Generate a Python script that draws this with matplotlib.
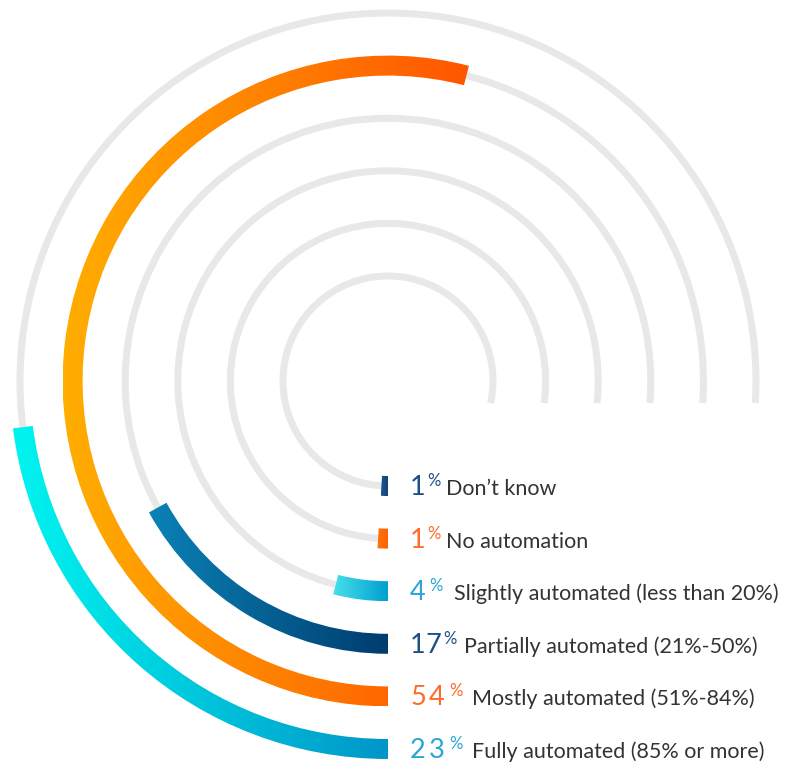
import math

import matplotlib
matplotlib.use("Agg")
import matplotlib.pyplot as plt
import numpy as np
from matplotlib.colors import LinearSegmentedColormap
from matplotlib.patches import Wedge

# data, innermost ring first
categories = ["Don\u2019t know", "No automation", "Slightly automated (less than 20%)",
              "Partially automated (21%-50%)", "Mostly automated (51%-84%)",
              "Fully automated (85% or more)"]
values = [1, 1, 4, 17, 54, 23]

# bar gradients (left -> right) and number colours
bar_left = ["#1f5590", "#ff7410", "#48dfea", "#0a82b6", "#ffae00", "#00f5f0"]
bar_right = ["#123f73", "#ff6200", "#00a0d0", "#003c6e", "#ff5500", "#0096c8"]
num_colors = ["#1d4f85", "#ff6a2a", "#2aa5d5", "#1d4f85", "#ff6a2a", "#2aa5d5"]
# spacing of the label pieces (pixels): digit tracking, number->%, %->label
tracking = [0, 0, 0, 0, 3, 3]
gap_pct = [2, 2, 3, 2, 5, 5]
gap_label = [5, 5, 12, 7, 9, 9]

W, H = 785, 763
CX, CY = 388, H - 381
R0, DR = 105, 52.6
GRAY_T, BAR_T = 7, 20
FONT = ["Lato", "DejaVu Sans"]

fig = plt.figure(figsize=(W / 100, H / 100), dpi=100)
ax = fig.add_axes([0, 0, 1, 1])
ax.set_xlim(0, W)
ax.set_ylim(0, H)
ax.axis("off")

for i, (v, lc, rc) in enumerate(zip(values, bar_left, bar_right)):
    r = R0 + i * DR
    # gray track: from 6 o'clock clockwise round to just under 3 o'clock
    drop = math.degrees(math.asin(22 / r))
    ax.add_patch(Wedge((CX, CY), r + GRAY_T / 2, -drop, 270, width=GRAY_T,
                       facecolor="#e8e8e8", edgecolor="none", zorder=1))
    # coloured bar, clockwise from the bottom, 100% = full circle
    w = Wedge((CX, CY), r + BAR_T / 2, 270 - v * 3.6, 270, width=BAR_T,
              facecolor="none", edgecolor="none", zorder=2)
    ax.add_patch(w)
    ext = w.get_path().get_extents()
    cmap = LinearSegmentedColormap.from_list(f"g{i}", [lc, rc])
    grad = np.linspace(0, 1, 256).reshape(1, -1)
    im = ax.imshow(grad, cmap=cmap, extent=[ext.x0, ext.x1, ext.y0, ext.y1],
                   aspect="auto", zorder=2, interpolation="bilinear")
    im.set_clip_path(w)

ax.set_xlim(0, W)
ax.set_ylim(0, H)

fig.canvas.draw()
renderer = fig.canvas.get_renderer()
inv = ax.transData.inverted()


def right_edge(t):
    bb = t.get_window_extent(renderer)
    return inv.transform((bb.x1, bb.y0))[0]


for i, (cat, v, col) in enumerate(zip(categories, values, num_colors)):
    r = R0 + i * DR
    base = CY - r - 9
    x = 410
    for k, ch in enumerate(str(v)):
        t = ax.text(x, base, ch, color=col, fontsize=19.5, family=FONT,
                    va="baseline", ha="left")
        x = right_edge(t) + tracking[i]
    x += gap_pct[i] - tracking[i]
    t = ax.text(x, base + 9, "%", color=col, fontsize=12, family=FONT,
                va="baseline", ha="left")
    x = right_edge(t) + gap_label[i]
    ax.text(x, base, cat, color="#333333", fontsize=15.5, family=FONT,
            va="baseline", ha="left")

fig.savefig("out.png", dpi=100)
